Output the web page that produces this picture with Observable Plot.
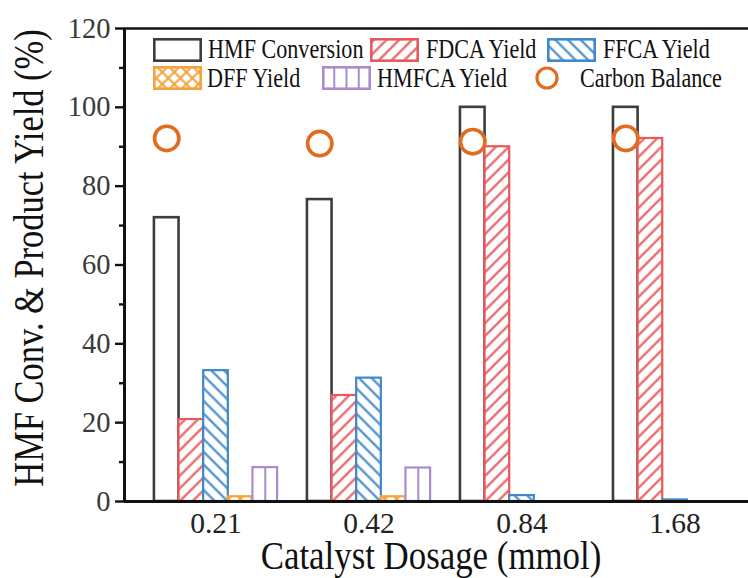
<!DOCTYPE html>
<html>
<head>
<meta charset="utf-8">
<script src="https://cdn.jsdelivr.net/npm/d3@7"></script>
<script src="https://cdn.jsdelivr.net/npm/@observablehq/plot@0.6"></script>
<style>
  html, body { margin: 0; padding: 0; background: #fff; }
  #chart { width: 748px; height: 578px; }
</style>
</head>
<body>
<svg width="0" height="0" style="position:absolute">
  <defs>
    <pattern id="fdca" patternUnits="userSpaceOnUse" width="9" height="9" patternTransform="rotate(45)">
      <rect width="9" height="9" fill="white"/>
      <line x1="4.5" y1="-1" x2="4.5" y2="10" stroke="#e8585c" stroke-width="2.1"/>
    </pattern>
    <pattern id="ffca" patternUnits="userSpaceOnUse" width="9" height="9" patternTransform="rotate(-45)">
      <rect width="9" height="9" fill="white"/>
      <line x1="4.5" y1="-1" x2="4.5" y2="10" stroke="#3f88c9" stroke-width="2.1"/>
    </pattern>
    <pattern id="dff" patternUnits="userSpaceOnUse" width="8.5" height="8.5" patternTransform="rotate(45)">
      <rect width="8.5" height="8.5" fill="white"/>
      <line x1="4.25" y1="-1" x2="4.25" y2="9.5" stroke="#f4a23c" stroke-width="2.1"/>
      <line x1="-1" y1="4.25" x2="9.5" y2="4.25" stroke="#f4a23c" stroke-width="2.1"/>
    </pattern>
  </defs>
</svg>
<div id="chart"></div>
<script>
// ---- data ----
const dosages = ["0.21", "0.42", "0.84", "1.68"];
const hmfConversion = [72.0, 76.6, 100.0, 100.0];
const fdcaYield = [20.8, 26.9, 90.0, 92.1];
const ffcaYield = [33.2, 31.3, 1.5, 0.4];
const dffYield = [1.2, 1.2, 0, 0];
const hmfcaYield = [8.6, 8.5, 0, 0];
const carbonBalance = [92.1, 90.8, 91.3, 92.1];
const yMajorTicks = [0, 20, 40, 60, 80, 100, 120];
const yMinorTicks = [10, 30, 50, 70, 90, 110];
const seriesNames = ["HMF Conversion", "FDCA Yield", "FFCA Yield", "DFF Yield", "HMFCA Yield", "Carbon Balance"];
const xTitle = "Catalyst Dosage (mmol)";
const yTitle = "HMF Conv. & Product Yield (%)";

// ---- styles ----
const serif = "'Liberation Serif', 'Times New Roman', Times, serif";
const series = [
  {values: hmfConversion, fill: "white", stroke: "#3d3d3d", sw: 2.6},
  {values: fdcaYield, fill: "url(#fdca)", stroke: "#e8585c", sw: 2.2},
  {values: ffcaYield, fill: "url(#ffca)", stroke: "#3f88c9", sw: 2.2},
  {values: dffYield, fill: "url(#dff)", stroke: "#f4a23c", sw: 2.2},
  {values: hmfcaYield, fill: "white", stroke: "#a88ccf", sw: 2.2}
];
const cbColor = "#e36b1f";
const bw = 0.161;            // bar width in group units
const xDomain = [-0.598, 3.48];

const rows = series.flatMap((s, si) => s.values.map((v, g) => ({g, si, v}))).filter(d => d.v > 0);
const cbRows = carbonBalance.map((v, g) => ({g, v}));

const barMarks = series.map((s, si) =>
  Plot.rect(rows.filter(d => d.si === si), {
    x1: d => d.g + (d.si - 2.5) * bw,
    x2: d => d.g + (d.si - 1.5) * bw,
    y1: 0,
    y2: "v",
    fill: s.fill,
    stroke: s.stroke,
    strokeWidth: s.sw
  })
);

const svg = Plot.plot({
  width: 748,
  height: 578,
  marginLeft: 124,
  marginRight: 0,
  marginTop: 28,
  marginBottom: 77,
  style: {fontFamily: serif, background: "white", color: "#111", overflow: "visible"},
  x: {type: "linear", domain: xDomain, axis: null},
  y: {domain: [0, 120], axis: null},
  marks: [
    ...barMarks,
    Plot.ruleX(rows.filter(d => d.si === 4), {
      x: d => d.g + (d.si - 2) * bw, y1: 0, y2: "v", stroke: series[4].stroke, strokeWidth: 2
    }),
    Plot.dot(cbRows, {x: d => d.g - 2 * bw, y: "v", r: 12.2, stroke: cbColor, strokeWidth: 3.6, fill: "white"}),
    Plot.ruleY([0], {stroke: "#111", strokeWidth: 3}),
    Plot.ruleY([120], {stroke: "#111", strokeWidth: 2.6}),
    Plot.ruleX([xDomain[0]], {stroke: "#111", strokeWidth: 3}),
    Plot.axisY(yMinorTicks, {tickSize: 5, fill: "none", stroke: "#111", strokeWidth: 2.4, label: null}),
    Plot.axisY(yMajorTicks, {tickSize: 9, fill: "none", stroke: "#111", strokeWidth: 2.4, label: null}),
    Plot.axisY(yMajorTicks, {tickSize: 0, tickPadding: 14, fill: "#3a3a3a", fontSize: 28.5, label: null}),
    Plot.axisX([0, 1, 2, 3], {tickSize: 0, tickPadding: 11, tickFormat: i => dosages[i], fill: "#222", fontSize: 29.5, label: null})
  ]
});
document.getElementById("chart").appendChild(svg);

const root = d3.select(svg);

// ---- axis titles (condensed serif, as in the reference) ----
root.append("text")
  .attr("transform", "translate(431,569) scale(0.85,1)")
  .attr("text-anchor", "middle").attr("font-family", serif)
  .attr("font-size", 41).attr("fill", "#111").text(xTitle);
root.append("text")
  .attr("transform", "translate(43,258) rotate(-90) scale(0.82,1)")
  .attr("text-anchor", "middle").attr("font-family", serif)
  .attr("font-size", 42).attr("fill", "#111").text(yTitle);

// ---- legend (inside the plot frame) ----
const legendItems = [
  {name: seriesNames[0], kind: "rect", fill: "white", stroke: series[0].stroke, sx: 153, sy: 38, tx: 208, ty: 58},
  {name: seriesNames[1], kind: "rect", fill: "url(#fdca)", stroke: series[1].stroke, sx: 370, sy: 38, tx: 426, ty: 58},
  {name: seriesNames[2], kind: "rect", fill: "url(#ffca)", stroke: series[2].stroke, sx: 547, sy: 38, tx: 603, ty: 58},
  {name: seriesNames[3], kind: "rect", fill: "url(#dff)", stroke: series[3].stroke, sx: 153, sy: 66, tx: 207, ty: 87},
  {name: seriesNames[4], kind: "vlines", fill: "white", stroke: series[4].stroke, sx: 322, sy: 66, tx: 377, ty: 87},
  {name: seriesNames[5], kind: "circle", stroke: cbColor, sx: 547, sy: 78, tx: 580, ty: 87}
];
const lg = root.append("g").attr("font-family", serif);
for (const it of legendItems) {
  if (it.kind === "circle") {
    lg.append("circle").attr("cx", it.sx).attr("cy", it.sy).attr("r", 10)
      .attr("fill", "white").attr("stroke", it.stroke).attr("stroke-width", 3.2);
  } else {
    const w = 49, h = 24, s = 2.6;
    lg.append("rect").attr("x", it.sx + s / 2).attr("y", it.sy + s / 2)
      .attr("width", w - s).attr("height", h - s)
      .attr("fill", it.fill).attr("stroke", it.stroke).attr("stroke-width", s);
    if (it.kind === "vlines") {
      for (let k = 1; k <= 3; k++) {
        lg.append("line").attr("x1", it.sx + k * w / 4).attr("x2", it.sx + k * w / 4)
          .attr("y1", it.sy + s / 2).attr("y2", it.sy + h - s / 2)
          .attr("stroke", it.stroke).attr("stroke-width", 2);
      }
    }
  }
  lg.append("text").attr("transform", `translate(${it.tx},${it.ty}) scale(0.82,1)`)
    .attr("text-anchor", "start")
    .attr("font-size", 27).attr("fill", "#111").text(it.name);
}
</script>
</body>
</html>
